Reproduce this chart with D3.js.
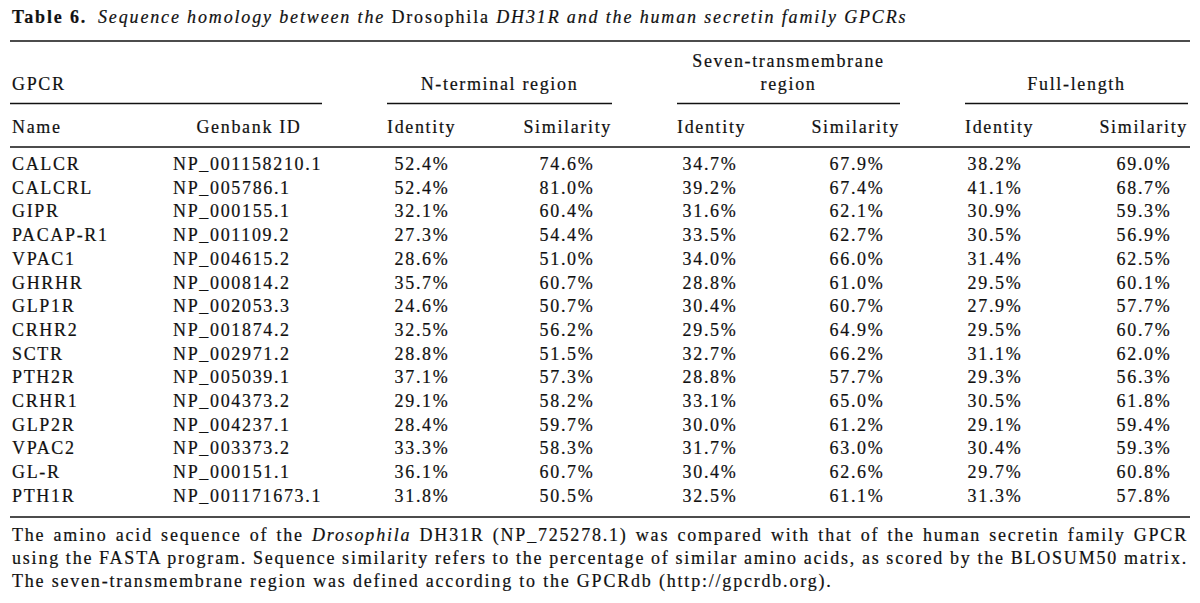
<!DOCTYPE html>
<html><head><meta charset="utf-8">
<script src="https://cdnjs.cloudflare.com/ajax/libs/d3/7.8.5/d3.min.js"></script>
<style>
html,body{margin:0;padding:0;background:#fff;}
</style>
</head><body>
<svg id="chart" width="1200" height="603" font-family="'Liberation Serif', Tinos, 'DejaVu Serif', serif"></svg>
<script>
const names = ["CALCR","CALCRL","GIPR","PACAP-R1","VPAC1","GHRHR","GLP1R","CRHR2","SCTR","PTH2R","CRHR1","GLP2R","VPAC2","GL-R","PTH1R"];
const genbankIds = ["NP_001158210.1","NP_005786.1","NP_000155.1","NP_001109.2","NP_004615.2","NP_000814.2","NP_002053.3","NP_001874.2","NP_002971.2","NP_005039.1","NP_004373.2","NP_004237.1","NP_003373.2","NP_000151.1","NP_001171673.1"];
const ntIdentity   = [52.4,52.4,32.1,27.3,28.6,35.7,24.6,32.5,28.8,37.1,29.1,28.4,33.3,36.1,31.8];
const ntSimilarity = [74.6,81.0,60.4,54.4,51.0,60.7,50.7,56.2,51.5,57.3,58.2,59.7,58.3,60.7,50.5];
const tmIdentity   = [34.7,39.2,31.6,33.5,34.0,28.8,30.4,29.5,32.7,28.8,33.1,30.0,31.7,30.4,32.5];
const tmSimilarity = [67.9,67.4,62.1,62.7,66.0,61.0,60.7,64.9,66.2,57.7,65.0,61.2,63.0,62.6,61.1];
const flIdentity   = [38.2,41.1,30.9,30.5,31.4,29.5,27.9,29.5,31.1,29.3,30.5,29.1,30.4,29.7,31.3];
const flSimilarity = [69.0,68.7,59.3,56.9,62.5,60.1,57.7,60.7,62.0,56.3,61.8,59.4,59.3,60.8,57.8];
const groupLabels = ["GPCR","N-terminal region","Seven-transmembrane|region","Full-length"];
const subLabels = ["Name","Genbank ID","Identity","Similarity","Identity","Similarity","Identity","Similarity"];

const svg = d3.select("#chart");
const FS = 18, LS = 1.66;
const ink = "#111";

const rowH = 23.7;
const y = d3.scaleBand().domain(names).range([151, 151 + rowH*names.length]);
const baseOff = 19;

const valueCols = ["ntI","ntS","tmI","tmS","flI","flS"];
const colCenter = d3.scaleOrdinal().domain(valueCols).range([422,567,710,857,995,1144]);
const groups = [
  {x0:12,x1:322},{x0:387,x1:612},{x0:677,x1:900},{x0:965,x1:1188}
];

function txt(g,x,yy,s,anchor){
  return g.append("text").attr("x",x).attr("y",yy).attr("font-size",FS)
    .attr("letter-spacing",LS).attr("fill",ink).attr("stroke",ink).attr("stroke-width",0.2)
    .attr("text-anchor",anchor||"start").text(s);
}

const title = svg.append("text").attr("x",12).attr("y",23).attr("font-size",FS).attr("fill",ink)
  .attr("stroke",ink).attr("stroke-width",0.2).attr("letter-spacing",1.85);
title.append("tspan").attr("font-weight","bold").text("Table 6.");
title.append("tspan").attr("font-style","italic").text("\u2002Sequence homology between the ");
title.append("tspan").text("Drosophila ");
title.append("tspan").attr("font-style","italic").text("DH31R and the human secretin family GPCRs");

function rule(x0,x1,yy,w){
  svg.append("line").attr("x1",x0).attr("x2",x1).attr("y1",yy).attr("y2",yy)
    .attr("stroke",ink).attr("stroke-width",w||1.7);
}
rule(10,1190,41);
groups.forEach(g=>rule(g.x0===12?10:g.x0,g.x1,103.5,1.5));
rule(10,1190,147);
rule(10,1190,517);

const hg = svg.append("g");
txt(hg,12,90,groupLabels[0]);
txt(hg,(groups[1].x0+groups[1].x1)/2,90,groupLabels[1],"middle");
const tmParts = groupLabels[2].split("|");
txt(hg,(groups[2].x0+groups[2].x1)/2,67,tmParts[0],"middle");
txt(hg,(groups[2].x0+groups[2].x1)/2,90,tmParts[1],"middle");
txt(hg,(groups[3].x0+groups[3].x1)/2,90,groupLabels[3],"middle");

const sy = 133;
txt(hg,12,sy,subLabels[0]);
txt(hg,249,sy,subLabels[1],"middle");
[1,2,3].forEach((gi,i)=>{
  txt(hg,groups[gi].x0,sy,subLabels[2+i*2]);
  txt(hg,groups[gi].x1,sy,subLabels[3+i*2],"end");
});

const fmt = v => d3.format(".1f")(v) + "%";
const series = [ntIdentity,ntSimilarity,tmIdentity,tmSimilarity,flIdentity,flSimilarity];
const body = svg.append("g");
names.forEach((n,i)=>{
  const yy = y(n) + baseOff;
  txt(body,12,yy,n);
  txt(body,173,yy,genbankIds[i]);
  valueCols.forEach((c,j)=>{
    txt(body,colCenter(c),yy,fmt(series[j][i]),"middle");
  });
});

const foot = svg.append("g");
function footLine(yy, parts, justify){
  const t = foot.append("text").attr("x",12).attr("y",yy).attr("font-size",FS).attr("fill",ink)
    .attr("stroke",ink).attr("stroke-width",0.2).attr("letter-spacing",1.8);
  parts.forEach(p=>{
    const s = t.append("tspan").text(p[0]);
    if(p[1]) s.attr("font-style","italic");
  });
  if(justify){
    const full = t.node().getComputedTextLength();
    const txtAll = parts.map(p=>p[0]).join("");
    const spaces = (txtAll.match(/ /g)||[]).length;
    const extra = (1176 - full)/spaces;
    t.attr("word-spacing", extra);
  }
}
footLine(541,[["The amino acid sequence of the "],["Drosophila",true],[" DH31R (NP_725278.1) was compared with that of the human secretin family GPCR"]],true);
footLine(564,[["using the FASTA program. Sequence similarity refers to the percentage of similar amino acids, as scored by the BLOSUM50 matrix."]],true);
footLine(587,[["The seven-transmembrane region was defined according to the GPCRdb (http://gpcrdb.org)."]],false);
</script>
</body></html>
